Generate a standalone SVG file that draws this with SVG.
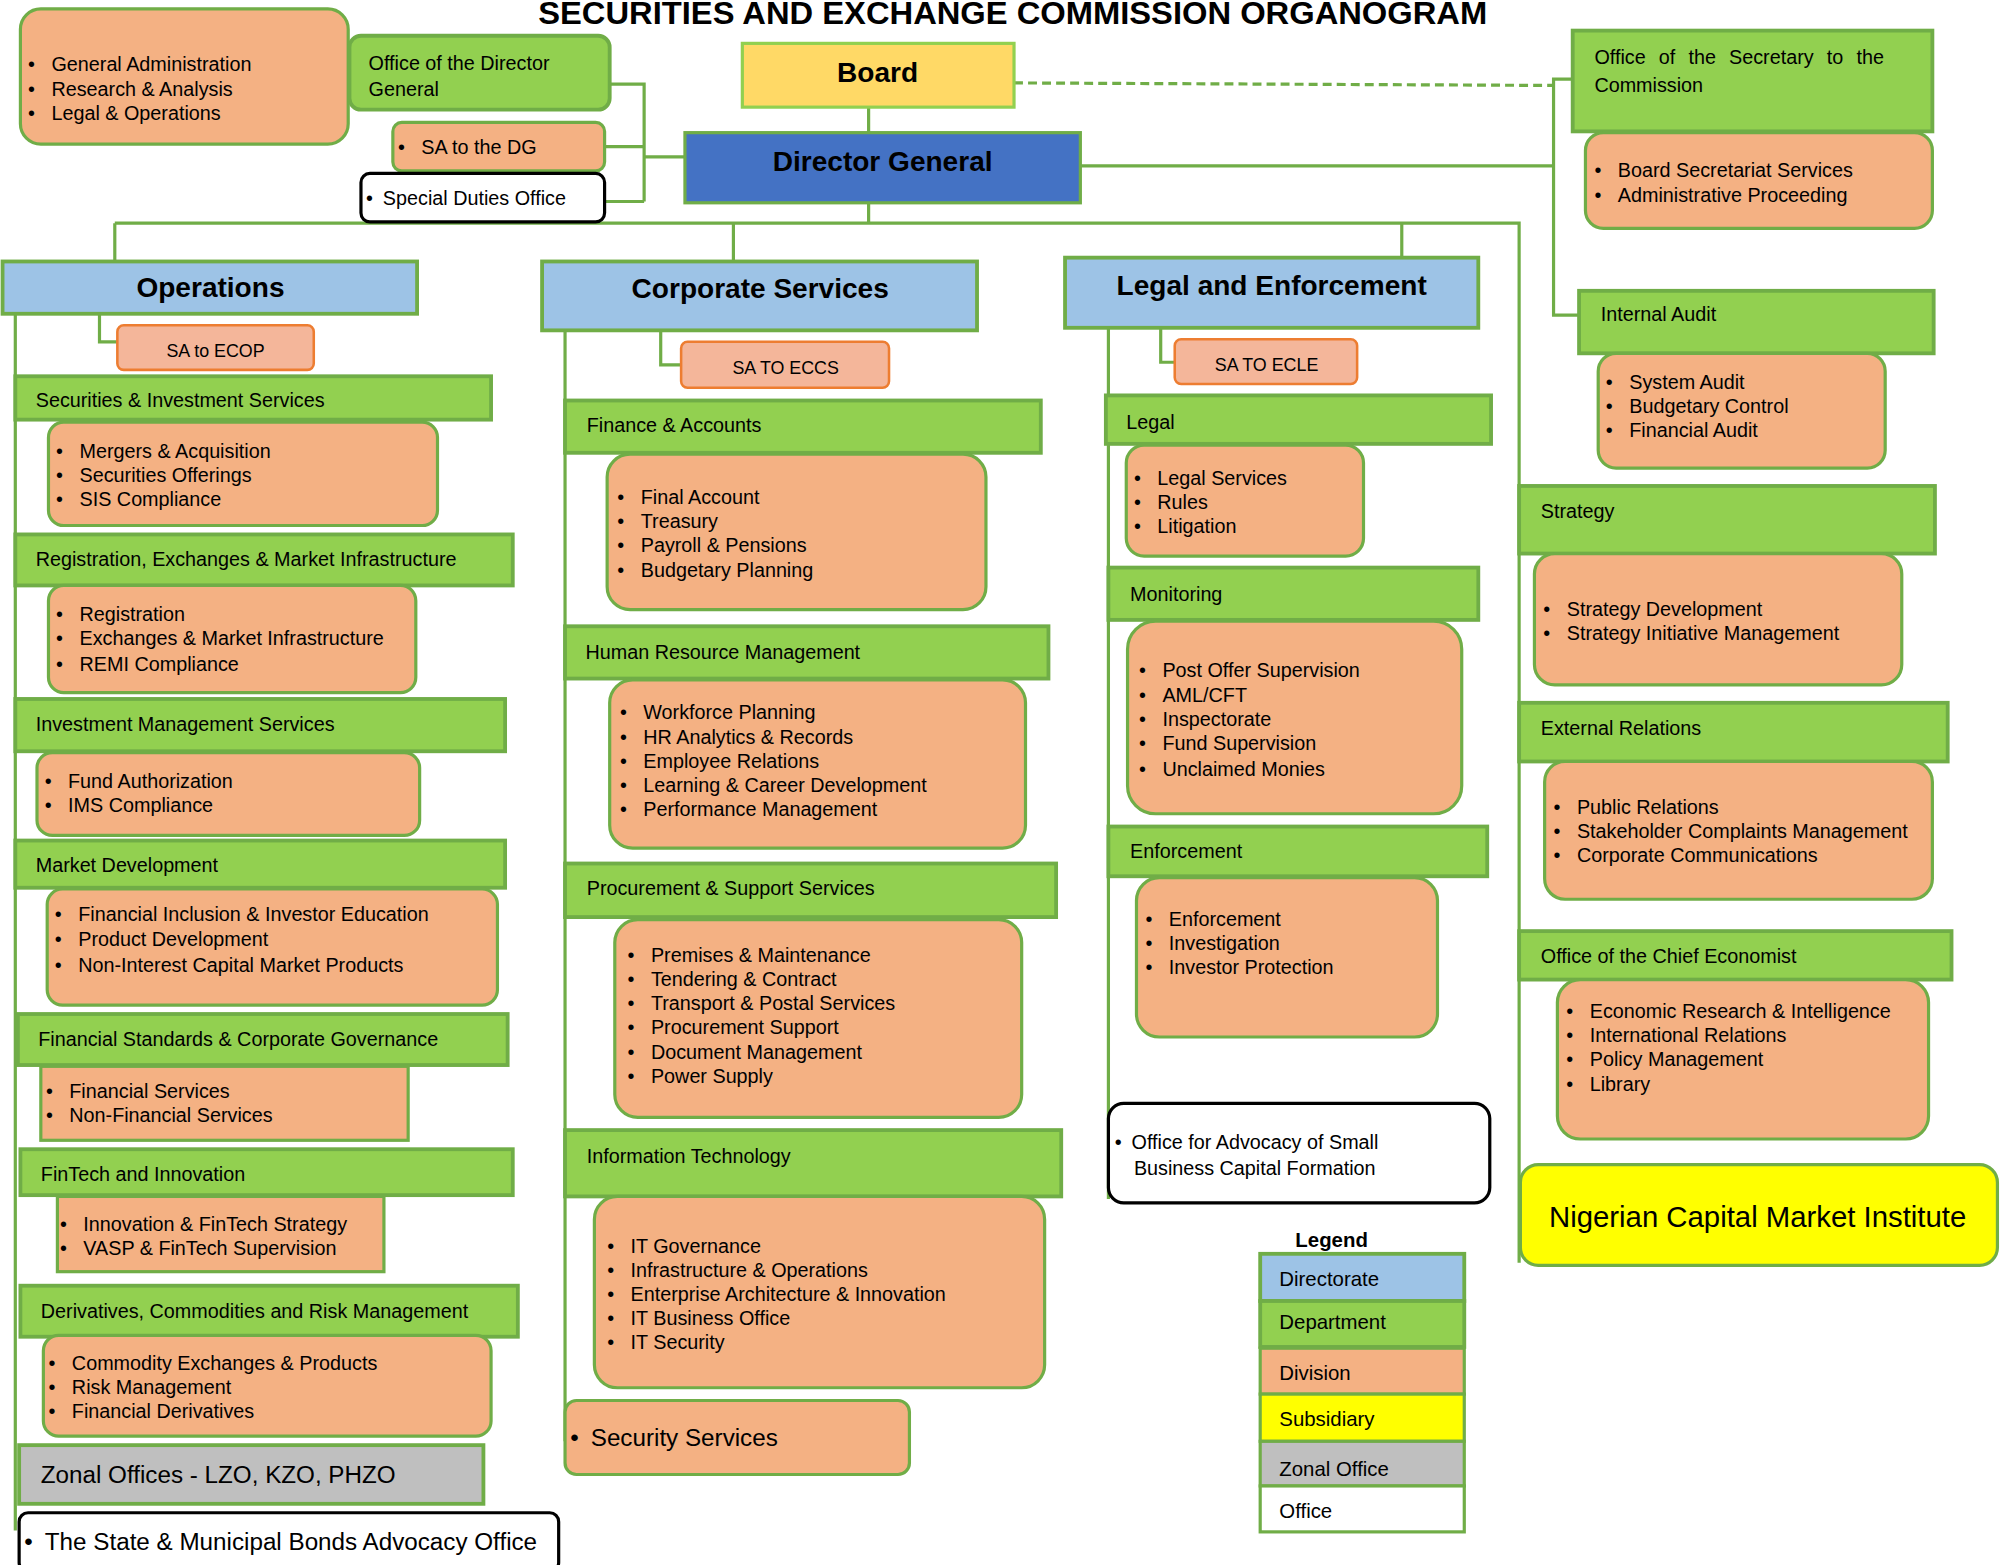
<svg xmlns="http://www.w3.org/2000/svg" width="2000" height="1565" viewBox="0 0 2000 1565">
<style>
text{font-family:"Liberation Sans","DejaVu Sans",sans-serif;fill:#000}
.t{font-size:15.5px}
.h{font-size:22px;font-weight:bold;text-anchor:middle}
.dep{fill:#92D050;stroke:#70AD47;stroke-width:3}
.div{fill:#F4B183;stroke:#70AD47;stroke-width:2.5}
.dir{fill:#9DC3E6;stroke:#70AD47;stroke-width:3}
.sa{fill:#F4B69A;stroke:#ED7D31;stroke-width:2}
.off{fill:#fff;stroke:#000;stroke-width:2.5}
.c{fill:none;stroke:#70AD47;stroke-width:2.5}
.sat{font-size:14px;text-anchor:middle}
</style>
<rect width="2000" height="1565" fill="#fff"/>
<g transform="scale(1.2755)">
<text x="794" y="19" font-size="24" font-weight="bold" text-anchor="middle" textLength="744" lengthAdjust="spacingAndGlyphs">SECURITIES AND EXCHANGE COMMISSION ORGANOGRAM</text>
<g id="connectors">
<path class="c" d="M478 66H505V158M474 115H505M474 158H505M505 123H537"/>
<path class="c" d="M681 84V104M681 159V175M90 175H1191V990M90 175V205M575 175V205M1099 175V202"/>
<path class="c" d="M795 65L1218 67" stroke-dasharray="7 4"/>
<path class="c" d="M847 130H1218M1233 62H1218V247H1238"/>
<path class="c" d="M12 246V1200M78 246V268H92"/>
<path class="c" d="M443 259V1130M518 259V286H534"/>
<path class="c" d="M869 257V940M910 257V284H921"/>
</g>
<g id="genadmin"><rect class="div" x="16" y="7" width="257" height="106" rx="16"/>
<text class="t" x="22" y="56">•&#8194;&#8196;General Administration</text><text class="t" x="22" y="75">•&#8194;&#8196;Research &amp; Analysis</text><text class="t" x="22" y="94">•&#8194;&#8196;Legal &amp; Operations</text></g>
<g id="odg"><rect class="dep" x="274" y="28" width="204" height="58" rx="9"/>
<text class="t" x="289" y="55" font-size="16">Office of the Director</text><text class="t" x="289" y="75" font-size="16">General</text></g>
<g id="sadg"><rect class="div" x="308" y="96" width="166" height="38" rx="7"/><text class="t" x="312" y="121">•&#8194;&#8196;SA to the DG</text></g>
<g id="sdo"><rect class="off" x="283" y="136" width="191" height="38" rx="7"/><text class="t" x="287" y="161">•&#8194;Special Duties Office</text></g>
<g id="board"><rect x="582" y="34" width="213" height="50" fill="#FFD966" stroke="#92D050" stroke-width="2.5"/><text class="h" x="688" y="64" font-size="20">Board</text></g>
<g id="dg"><rect x="537" y="104" width="310" height="55" fill="#4472C4" stroke="#70AD47" stroke-width="2.5"/><text class="h" x="692" y="134" font-size="21">Director General</text></g>
<g id="sec"><rect class="dep" x="1233" y="24" width="282" height="79"/>
<text class="t" x="1250" y="50" font-size="16" word-spacing="6">Office of the Secretary to the</text><text class="t" x="1250" y="72" font-size="16">Commission</text></g>
<g id="secdiv"><rect class="div" x="1243" y="104" width="272" height="75" rx="14"/>
<text class="t" x="1250" y="139">•&#8194;&#8196;Board Secretariat Services</text><text class="t" x="1250" y="158">•&#8194;&#8196;Administrative Proceeding</text></g>
<g id="ia"><rect class="dep" x="1238" y="228" width="278" height="49"/><text class="t" x="1255" y="252" font-size="16">Internal Audit</text></g>
<g id="iadiv"><rect class="div" x="1253" y="277" width="225" height="90" rx="14"/>
<text class="t" x="1259" y="305">•&#8194;&#8196;System Audit</text><text class="t" x="1259" y="324">•&#8194;&#8196;Budgetary Control</text><text class="t" x="1259" y="343">•&#8194;&#8196;Financial Audit</text></g>

<g id="ops"><rect class="dir" x="2" y="205" width="325" height="41"/><text class="h" x="165" y="233">Operations</text></g>
<g id="saecop"><rect class="sa" x="92" y="255" width="154" height="35" rx="5"/><text class="sat" x="169" y="280">SA to ECOP</text></g>
<g id="sis"><rect class="dep" x="12" y="295" width="373" height="34"/><text class="t" x="28" y="319" font-size="16">Securities &amp; Investment Services</text></g>
<g id="sisd"><rect class="div" x="38" y="331" width="305" height="81" rx="12"/><text class="t" x="44" y="359">•&#8194;&#8196;Mergers &amp; Acquisition</text><text class="t" x="44" y="378">•&#8194;&#8196;Securities Offerings</text><text class="t" x="44" y="397">•&#8194;&#8196;SIS Compliance</text></g>
<g id="remi"><rect class="dep" x="12" y="419" width="390" height="40"/><text class="t" x="28" y="444" font-size="16">Registration, Exchanges &amp; Market Infrastructure</text></g>
<g id="remid"><rect class="div" x="38" y="459" width="288" height="84" rx="12"/><text class="t" x="44" y="487">•&#8194;&#8196;Registration</text><text class="t" x="44" y="506">•&#8194;&#8196;Exchanges &amp; Market Infrastructure</text><text class="t" x="44" y="526">•&#8194;&#8196;REMI Compliance</text></g>
<g id="ims"><rect class="dep" x="12" y="548" width="384" height="41"/><text class="t" x="28" y="573" font-size="16">Investment Management Services</text></g>
<g id="imsd"><rect class="div" x="29" y="590" width="300" height="65" rx="12"/><text class="t" x="35" y="618">•&#8194;&#8196;Fund Authorization</text><text class="t" x="35" y="637">•&#8194;&#8196;IMS Compliance</text></g>
<g id="md"><rect class="dep" x="12" y="659" width="384" height="37"/><text class="t" x="28" y="684" font-size="16">Market Development</text></g>
<g id="mdd"><rect class="div" x="37" y="697" width="353" height="91" rx="12"/><text class="t" x="43" y="722" font-size="17">•&#8194;&#8196;Financial Inclusion &amp; Investor Education</text><text class="t" x="43" y="742" font-size="17">•&#8194;&#8196;Product Development</text><text class="t" x="43" y="762" font-size="17">•&#8194;&#8196;Non-Interest Capital Market Products</text></g>
<g id="fscg"><rect class="dep" x="14" y="795" width="384" height="40"/><text class="t" x="30" y="820" font-size="16">Financial Standards &amp; Corporate Governance</text></g>
<g id="fscgd"><rect class="div" x="32" y="836" width="288" height="58"/><text class="t" x="36" y="861">•&#8194;&#8196;Financial Services</text><text class="t" x="36" y="880">•&#8194;&#8196;Non-Financial Services</text></g>
<g id="fti"><rect class="dep" x="16" y="901" width="386" height="36"/><text class="t" x="32" y="926" font-size="16">FinTech and Innovation</text></g>
<g id="ftid"><rect class="div" x="45" y="938" width="256" height="59"/><text class="t" x="47" y="965">•&#8194;&#8196;Innovation &amp; FinTech Strategy</text><text class="t" x="47" y="984">•&#8194;&#8196;VASP &amp; FinTech Supervision</text></g>
<g id="dcrm"><rect class="dep" x="16" y="1008" width="390" height="40"/><text class="t" x="32" y="1033" font-size="16">Derivatives, Commodities and Risk Management</text></g>
<g id="dcrmd"><rect class="div" x="34" y="1047" width="351" height="79" rx="12"/><text class="t" x="38" y="1074">•&#8194;&#8196;Commodity Exchanges &amp; Products</text><text class="t" x="38" y="1093">•&#8194;&#8196;Risk Management</text><text class="t" x="38" y="1112">•&#8194;&#8196;Financial Derivatives</text></g>
<g id="zonal"><rect x="15" y="1133" width="364" height="46" fill="#BFBFBF" stroke="#70AD47" stroke-width="3"/><text x="32" y="1163" font-size="19">Zonal Offices - LZO, KZO, PHZO</text></g>
<g id="smbao"><rect class="off" x="15" y="1186" width="423" height="46" rx="7"/><text x="19" y="1215" font-size="19">•&#8194;The State &amp; Municipal Bonds Advocacy Office</text></g>

<g id="corp"><rect class="dir" x="425" y="205" width="341" height="54"/><text class="h" x="596" y="234">Corporate Services</text></g>
<g id="saeccs"><rect class="sa" x="534" y="268" width="163" height="36" rx="5"/><text class="sat" x="616" y="293">SA TO ECCS</text></g>
<g id="fa"><rect class="dep" x="443" y="314" width="373" height="41"/><text class="t" x="460" y="339" font-size="16">Finance &amp; Accounts</text></g>
<g id="fad"><rect class="div" x="476" y="356" width="297" height="122" rx="18"/><text class="t" x="484" y="395">•&#8194;&#8196;Final Account</text><text class="t" x="484" y="414">•&#8194;&#8196;Treasury</text><text class="t" x="484" y="433">•&#8194;&#8196;Payroll &amp; Pensions</text><text class="t" x="484" y="452">•&#8194;&#8196;Budgetary Planning</text></g>
<g id="hrm"><rect class="dep" x="443" y="491" width="379" height="41"/><text class="t" x="459" y="517" font-size="16">Human Resource Management</text></g>
<g id="hrmd"><rect class="div" x="478" y="533" width="326" height="132" rx="18"/><text class="t" x="486" y="564">•&#8194;&#8196;Workforce Planning</text><text class="t" x="486" y="583">•&#8194;&#8196;HR Analytics &amp; Records</text><text class="t" x="486" y="602">•&#8194;&#8196;Employee Relations</text><text class="t" x="486" y="621">•&#8194;&#8196;Learning &amp; Career Development</text><text class="t" x="486" y="640">•&#8194;&#8196;Performance Management</text></g>
<g id="pss"><rect class="dep" x="443" y="677" width="385" height="42"/><text class="t" x="460" y="702" font-size="16">Procurement &amp; Support Services</text></g>
<g id="pssd"><rect class="div" x="482" y="721" width="319" height="155" rx="18"/><text class="t" x="492" y="754">•&#8194;&#8196;Premises &amp; Maintenance</text><text class="t" x="492" y="773">•&#8194;&#8196;Tendering &amp; Contract</text><text class="t" x="492" y="792">•&#8194;&#8196;Transport &amp; Postal Services</text><text class="t" x="492" y="811">•&#8194;&#8196;Procurement Support</text><text class="t" x="492" y="830">•&#8194;&#8196;Document Management</text><text class="t" x="492" y="849">•&#8194;&#8196;Power Supply</text></g>
<g id="it"><rect class="dep" x="443" y="886" width="389" height="52"/><text class="t" x="460" y="912" font-size="16">Information Technology</text></g>
<g id="itd"><rect class="div" x="466" y="938" width="353" height="150" rx="18"/><text class="t" x="476" y="982">•&#8194;&#8196;IT Governance</text><text class="t" x="476" y="1001">•&#8194;&#8196;Infrastructure &amp; Operations</text><text class="t" x="476" y="1020">•&#8194;&#8196;Enterprise Architecture &amp; Innovation</text><text class="t" x="476" y="1039">•&#8194;&#8196;IT Business Office</text><text class="t" x="476" y="1058">•&#8194;&#8196;IT Security</text></g>
<g id="ss"><rect class="div" x="443" y="1098" width="270" height="58" rx="9"/><text x="447" y="1134" font-size="19">•&#8194;Security Services</text></g>

<g id="le"><rect class="dir" x="835" y="202" width="324" height="55"/><text class="h" x="997" y="231">Legal and Enforcement</text></g>
<g id="saecle"><rect class="sa" x="921" y="266" width="143" height="35" rx="5"/><text class="sat" x="993" y="291">SA TO ECLE</text></g>
<g id="legal"><rect class="dep" x="867" y="310" width="302" height="38"/><text class="t" x="883" y="336" font-size="16">Legal</text></g>
<g id="legald"><rect class="div" x="883" y="349" width="186" height="87" rx="14"/><text class="t" x="889" y="380">•&#8194;&#8196;Legal Services</text><text class="t" x="889" y="399">•&#8194;&#8196;Rules</text><text class="t" x="889" y="418">•&#8194;&#8196;Litigation</text></g>
<g id="mon"><rect class="dep" x="869" y="445" width="290" height="41"/><text class="t" x="886" y="471" font-size="16">Monitoring</text></g>
<g id="mond"><rect class="div" x="884" y="487" width="262" height="151" rx="22"/><text class="t" x="893" y="531">•&#8194;&#8196;Post Offer Supervision</text><text class="t" x="893" y="550">•&#8194;&#8196;AML/CFT</text><text class="t" x="893" y="569">•&#8194;&#8196;Inspectorate</text><text class="t" x="893" y="588">•&#8194;&#8196;Fund Supervision</text><text class="t" x="893" y="608">•&#8194;&#8196;Unclaimed Monies</text></g>
<g id="enf"><rect class="dep" x="869" y="648" width="297" height="39"/><text class="t" x="886" y="673" font-size="16">Enforcement</text></g>
<g id="enfd"><rect class="div" x="891" y="688" width="236" height="125" rx="18"/><text class="t" x="898" y="726">•&#8194;&#8196;Enforcement</text><text class="t" x="898" y="745">•&#8194;&#8196;Investigation</text><text class="t" x="898" y="764">•&#8194;&#8196;Investor Protection</text></g>
<g id="oasb"><rect class="off" x="869" y="865" width="299" height="78" rx="12"/><text class="t" x="874" y="901" font-size="16">•&#8194;Office for Advocacy of Small</text><text class="t" x="889" y="921" font-size="16">Business Capital Formation</text></g>

<g id="strat"><rect class="dep" x="1191" y="381" width="326" height="53"/><text class="t" x="1208" y="406" font-size="16">Strategy</text></g>
<g id="stratd"><rect class="div" x="1203" y="434" width="288" height="103" rx="16"/><text class="t" x="1210" y="483">•&#8194;&#8196;Strategy Development</text><text class="t" x="1210" y="502">•&#8194;&#8196;Strategy Initiative Management</text></g>
<g id="er"><rect class="dep" x="1191" y="551" width="336" height="46"/><text class="t" x="1208" y="576" font-size="16">External Relations</text></g>
<g id="erd"><rect class="div" x="1211" y="597" width="304" height="108" rx="16"/><text class="t" x="1218" y="638">•&#8194;&#8196;Public Relations</text><text class="t" x="1218" y="657">•&#8194;&#8196;Stakeholder Complaints Management</text><text class="t" x="1218" y="676">•&#8194;&#8196;Corporate Communications</text></g>
<g id="oce"><rect class="dep" x="1191" y="730" width="339" height="38"/><text class="t" x="1208" y="755" font-size="16">Office of the Chief Economist</text></g>
<g id="oced"><rect class="div" x="1221" y="768" width="291" height="125" rx="18"/><text class="t" x="1228" y="798">•&#8194;&#8196;Economic Research &amp; Intelligence</text><text class="t" x="1228" y="817">•&#8194;&#8196;International Relations</text><text class="t" x="1228" y="836">•&#8194;&#8196;Policy Management</text><text class="t" x="1228" y="855">•&#8194;&#8196;Library</text></g>
<g id="ncmi"><rect x="1192" y="913" width="374" height="79" rx="14" fill="#FFFF00" stroke="#70AD47" stroke-width="2.5"/><text x="1378" y="962" font-size="23" text-anchor="middle">Nigerian Capital Market Institute</text></g>

<g id="legend">
<text x="1044" y="978" font-size="16" font-weight="bold" text-anchor="middle">Legend</text>
<rect class="dir" x="988" y="983" width="160" height="37"/><text x="1003" y="1008" font-size="16">Directorate</text>
<rect class="dep" x="988" y="1020" width="160" height="36"/><text x="1003" y="1042" font-size="16">Department</text>
<rect x="988" y="1057" width="160" height="36" fill="#F4B183" stroke="#70AD47" stroke-width="2.5"/><text x="1003" y="1082" font-size="16">Division</text>
<rect x="988" y="1093" width="160" height="37" fill="#FFFF00" stroke="#70AD47" stroke-width="2.5"/><text x="1003" y="1118" font-size="16">Subsidiary</text>
<rect x="988" y="1130" width="160" height="35" fill="#BFBFBF" stroke="#70AD47" stroke-width="2.5"/><text x="1003" y="1157" font-size="16">Zonal Office</text>
<rect x="988" y="1165" width="160" height="36" fill="#fff" stroke="#70AD47" stroke-width="2.5"/><text x="1003" y="1190" font-size="16">Office</text>
</g>
</g>
</svg>
